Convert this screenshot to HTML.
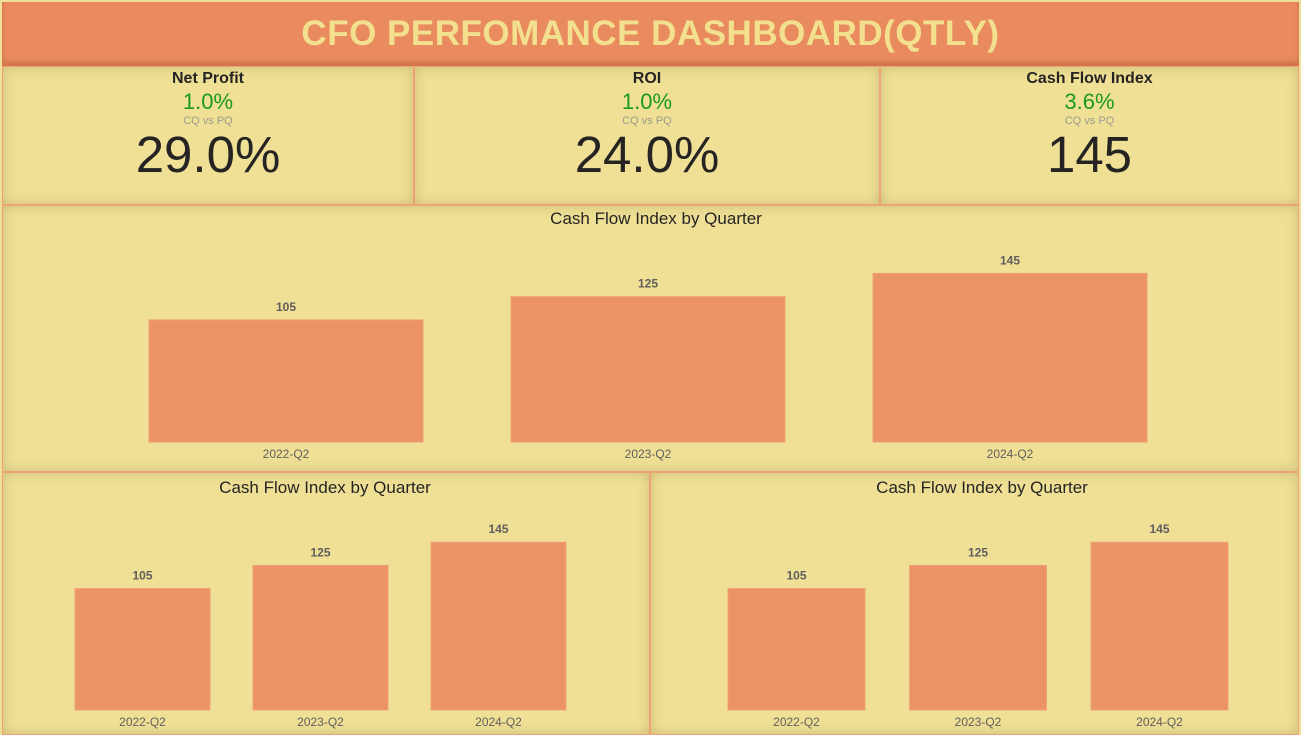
<!DOCTYPE html>
<html><head><meta charset="utf-8">
<style>
body{margin:0;width:1301px;height:735px;background:#EFE096;position:relative;overflow:hidden;font-family:"Liberation Sans",sans-serif}
.hdr{position:absolute;left:2px;top:2px;width:1297px;height:64px;background:#EA8A5F;box-shadow:inset 0 -4px 6px rgba(150,70,30,.35);text-align:center;color:#F2E08E;font-weight:bold;font-size:35px;line-height:64px;letter-spacing:0.5px}
.card{position:absolute;background:#EFE096;box-shadow:inset 0 0 12px rgba(140,120,50,.35);border:1px solid #EDA27A;box-sizing:border-box}
.kt{position:absolute;left:0;right:0;top:3px;text-align:center;font-weight:bold;font-size:16px;color:#252423}
.kd{position:absolute;left:0;right:0;top:22px;text-align:center;font-size:22px;color:#1B9A1B}
.ks{position:absolute;left:0;right:0;top:48px;text-align:center;font-size:11px;color:#9b9b8a}
.kv{position:absolute;left:0;right:0;top:58px;text-align:center;font-size:51px;color:#252423}
svg{position:absolute;left:0;top:0}
</style></head><body>
<div class="hdr">CFO PERFOMANCE DASHBOARD(QTLY)</div>

<div class="card" style="left:2px;top:66px;width:412px;height:139px">
<div class="kt">Net Profit</div>
<div class="kd">1.0%</div>
<div class="ks">CQ vs PQ</div>
<div class="kv">29.0%</div>
</div>
<div class="card" style="left:414px;top:66px;width:466px;height:139px">
<div class="kt">ROI</div>
<div class="kd">1.0%</div>
<div class="ks">CQ vs PQ</div>
<div class="kv">24.0%</div>
</div>
<div class="card" style="left:880px;top:66px;width:419px;height:139px">
<div class="kt">Cash Flow Index</div>
<div class="kd">3.6%</div>
<div class="ks">CQ vs PQ</div>
<div class="kv">145</div>
</div>

<div class="card" style="left:2px;top:205px;width:1297px;height:267px"></div>
<div class="card" style="left:2px;top:472px;width:648px;height:263px"></div>
<div class="card" style="left:650px;top:472px;width:649px;height:263px"></div>

<svg id="charts" width="1301" height="735"></svg>

<script>
const categories = ["2022-Q2","2023-Q2","2024-Q2"];
const mainValues = [105,125,145];
const leftValues = [105,125,145];
const rightValues = [105,125,145];
const chartTitle = "Cash Flow Index by Quarter";

const NS="http://www.w3.org/2000/svg";
const svg=document.getElementById('charts');
function mk(tag,attrs){const e=document.createElementNS(NS,tag);for(const k in attrs)e.setAttribute(k,attrs[k]);svg.appendChild(e);return e;}

function drawChart(name,values,cfg){
  const t=mk('text',{x:cfg.cx,y:cfg.titleY,'text-anchor':'middle','font-size':17,fill:'#252423','font-family':'Liberation Sans, sans-serif'});
  t.textContent=chartTitle;
  
  
  const y=v=>cfg.base-v*cfg.scale;
  const xs=i=>cfg.x0+i*cfg.step;
  values.forEach((v,i)=>{
    const r=mk('rect',{x:xs(i),y:y(v),width:cfg.bw,height:cfg.base-y(v),fill:'#EC9366',stroke:'#F0A278','stroke-width':1});
    
    
    const l=mk('text',{x:xs(i)+cfg.bw/2,y:y(v)-9,'text-anchor':'middle','font-size':12,'font-weight':'bold',fill:'#605E5C'});
    l.textContent=v;
    
    
    const c=mk('text',{x:xs(i)+cfg.bw/2,y:cfg.base+16,'text-anchor':'middle','font-size':12,fill:'#605E5C'});
    c.textContent=categories[i];
    
    
  });
}
drawChart('main-chart',mainValues,{cx:656,titleY:224,base:442,scale:1.163,x0:149,step:362,bw:274});
drawChart('left-chart',leftValues,{cx:325,titleY:493,base:710,scale:1.157,x0:75,step:178,bw:135});
drawChart('right-chart',rightValues,{cx:982,titleY:493,base:710,scale:1.157,x0:728,step:181.5,bw:137});
</script>
</body></html>
